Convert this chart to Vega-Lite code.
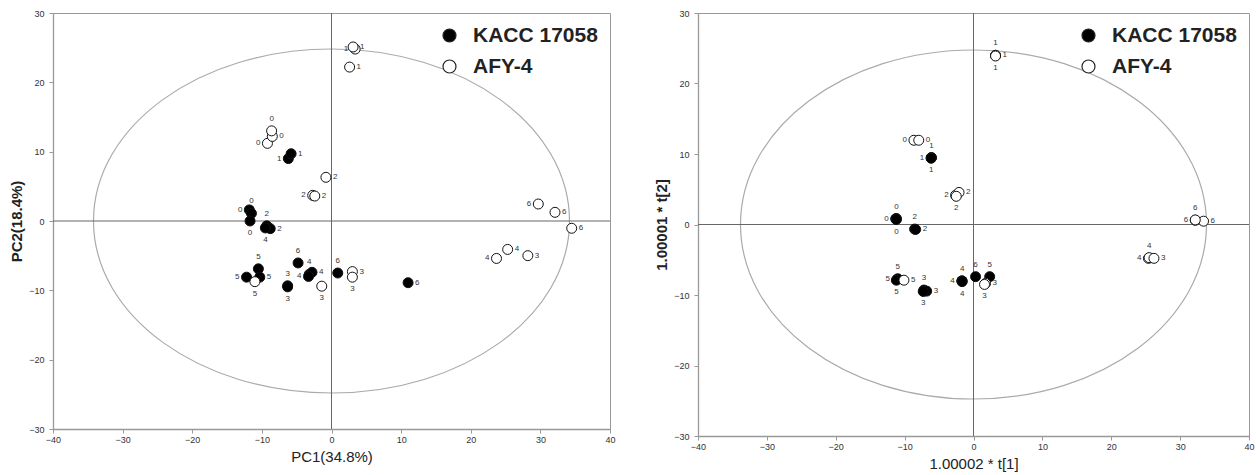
{
  "$schema": "https://vega.github.io/schema/vega-lite/v6.json",
  "padding": {"left": 9, "top": 8, "right": 3, "bottom": 2},
  "spacing": 38,
  "config": {
    "font": "Liberation Sans",
    "view": {"stroke": "#999", "strokeWidth": 1},
    "axis": {"grid": false, "domainColor": "#999", "domainWidth": 1.3, "tickColor": "#999", "tickSize": 4, "labelPadding": 5, "labelFontSize": 9, "labelColor": "#333", "titleColor": "#222", "titleFontSize": 15, "titleFontWeight": "normal", "titlePadding": 4, "labelFlush": false},
    "axisX": {"labelPadding": 2, "titlePadding": 5},
    "axisY": {"titleFontWeight": "bold"},
    "legend": {"orient": "top-right", "offset": 12, "padding": 0, "labelFontSize": 21, "labelFontWeight": "bold", "labelColor": "#222", "symbolSize": 169, "symbolType": "circle", "symbolStrokeColor": "#222", "symbolStrokeWidth": 1.2, "rowPadding": 9, "labelOffset": 13}
  },
  "datasets": {
    "center": [{"x": 0, "y": 0}],
    "pca": [
      {"x": -6.2, "y": 9.0, "strain": "KACC 17058", "label": "1", "side": "l"},
      {"x": -5.8, "y": 9.7, "strain": "KACC 17058", "label": "1", "side": "r"},
      {"x": -11.8, "y": 1.6, "strain": "KACC 17058", "label": "0", "side": "l"},
      {"x": -11.5, "y": 1.1, "strain": "KACC 17058", "label": "0", "side": "t"},
      {"x": -11.7, "y": 0.0, "strain": "KACC 17058", "label": "0", "side": "b"},
      {"x": -9.3, "y": -0.7, "strain": "KACC 17058", "label": "2", "side": "t"},
      {"x": -8.8, "y": -1.1, "strain": "KACC 17058", "label": "2", "side": "r"},
      {"x": -9.5, "y": -1.0, "strain": "KACC 17058", "label": "4", "side": "b"},
      {"x": -4.8, "y": -6.05, "strain": "KACC 17058", "label": "6", "side": "t"},
      {"x": 0.9, "y": -7.5, "strain": "KACC 17058", "label": "6", "side": "t"},
      {"x": 11.0, "y": -8.9, "strain": "KACC 17058", "label": "6", "side": "r"},
      {"x": -3.2, "y": -7.7, "strain": "KACC 17058", "label": "4", "side": "t"},
      {"x": -2.8, "y": -7.4, "strain": "KACC 17058", "label": "4", "side": "r"},
      {"x": -3.3, "y": -8.0, "strain": "KACC 17058", "label": "4", "side": "l"},
      {"x": -6.3, "y": -9.35, "strain": "KACC 17058", "label": "3", "side": "t"},
      {"x": -6.3, "y": -9.5, "strain": "KACC 17058", "label": "3", "side": "b"},
      {"x": -12.2, "y": -8.1, "strain": "KACC 17058", "label": "5", "side": "l"},
      {"x": -10.5, "y": -6.9, "strain": "KACC 17058", "label": "5", "side": "t"},
      {"x": -10.3, "y": -8.1, "strain": "KACC 17058", "label": "5", "side": "r"},
      {"x": -9.2, "y": 11.2, "strain": "AFY-4", "label": "0", "side": "l"},
      {"x": -8.5, "y": 12.2, "strain": "AFY-4", "label": "0", "side": "r"},
      {"x": -8.6, "y": 13.0, "strain": "AFY-4", "label": "0", "side": "t"},
      {"x": 3.4, "y": 24.8, "strain": "AFY-4", "label": "1", "side": "l"},
      {"x": 3.1, "y": 25.1, "strain": "AFY-4", "label": "1", "side": "r"},
      {"x": 2.6, "y": 22.2, "strain": "AFY-4", "label": "1", "side": "r"},
      {"x": -2.7, "y": 3.7, "strain": "AFY-4", "label": "2", "side": "l"},
      {"x": -2.4, "y": 3.6, "strain": "AFY-4", "label": "2", "side": "r"},
      {"x": -0.8, "y": 6.3, "strain": "AFY-4", "label": "2", "side": "r"},
      {"x": 3.0, "y": -7.3, "strain": "AFY-4", "label": "3", "side": "r"},
      {"x": 3.0, "y": -8.1, "strain": "AFY-4", "label": "3", "side": "b"},
      {"x": -1.4, "y": -9.4, "strain": "AFY-4", "label": "3", "side": "b"},
      {"x": 23.7, "y": -5.4, "strain": "AFY-4", "label": "4", "side": "l"},
      {"x": 25.3, "y": -4.1, "strain": "AFY-4", "label": "4", "side": "r"},
      {"x": 28.2, "y": -5.0, "strain": "AFY-4", "label": "3", "side": "r"},
      {"x": 29.7, "y": 2.45, "strain": "AFY-4", "label": "6", "side": "l"},
      {"x": 32.1, "y": 1.25, "strain": "AFY-4", "label": "6", "side": "r"},
      {"x": 34.5, "y": -1.05, "strain": "AFY-4", "label": "6", "side": "r"},
      {"x": -11.0, "y": -8.75, "strain": "AFY-4", "label": "5", "side": "b"}
    ],
    "opls": [
      {"x": -6.15, "y": 9.45, "strain": "KACC 17058", "label": "1", "side": "l"},
      {"x": -6.1, "y": 9.5, "strain": "KACC 17058", "label": "1", "side": "t"},
      {"x": -6.15, "y": 9.4, "strain": "KACC 17058", "label": "1", "side": "b"},
      {"x": -11.2, "y": 0.85, "strain": "KACC 17058", "label": "0", "side": "t"},
      {"x": -11.3, "y": 0.8, "strain": "KACC 17058", "label": "0", "side": "l"},
      {"x": -11.2, "y": 0.7, "strain": "KACC 17058", "label": "0", "side": "b"},
      {"x": -8.55, "y": -0.65, "strain": "KACC 17058", "label": "2", "side": "t"},
      {"x": -8.4, "y": -0.7, "strain": "KACC 17058", "label": "2", "side": "r"},
      {"x": -11.1, "y": -7.8, "strain": "KACC 17058", "label": "5", "side": "l"},
      {"x": -11.0, "y": -7.7, "strain": "KACC 17058", "label": "5", "side": "t"},
      {"x": -11.2, "y": -7.9, "strain": "KACC 17058", "label": "5", "side": "b"},
      {"x": -7.2, "y": -9.3, "strain": "KACC 17058", "label": "3", "side": "t"},
      {"x": -6.8, "y": -9.45, "strain": "KACC 17058", "label": "3", "side": "r"},
      {"x": -7.3, "y": -9.5, "strain": "KACC 17058", "label": "3", "side": "b"},
      {"x": -1.65, "y": -8.0, "strain": "KACC 17058", "label": "4", "side": "t"},
      {"x": -1.7, "y": -8.0, "strain": "KACC 17058", "label": "4", "side": "l"},
      {"x": -1.65, "y": -8.1, "strain": "KACC 17058", "label": "4", "side": "b"},
      {"x": 0.3, "y": -7.4, "strain": "KACC 17058", "label": "6", "side": "t"},
      {"x": 2.35, "y": -7.4, "strain": "KACC 17058", "label": "5", "side": "t"},
      {"x": -8.65, "y": 11.95, "strain": "AFY-4", "label": "0", "side": "l"},
      {"x": -7.95, "y": 11.95, "strain": "AFY-4", "label": "0", "side": "r"},
      {"x": 3.2, "y": 24.0, "strain": "AFY-4", "label": "1", "side": "t"},
      {"x": 3.2, "y": 24.0, "strain": "AFY-4", "label": "1", "side": "r"},
      {"x": 3.2, "y": 23.9, "strain": "AFY-4", "label": "1", "side": "b"},
      {"x": -2.6, "y": 4.15, "strain": "AFY-4", "label": "2", "side": "l"},
      {"x": -2.1, "y": 4.55, "strain": "AFY-4", "label": "2", "side": "r"},
      {"x": -2.5, "y": 4.0, "strain": "AFY-4", "label": "2", "side": "b"},
      {"x": 1.75, "y": -8.35, "strain": "AFY-4", "label": "3", "side": "r"},
      {"x": 1.6, "y": -8.5, "strain": "AFY-4", "label": "3", "side": "b"},
      {"x": -10.1, "y": -7.9, "strain": "AFY-4", "label": "5", "side": "r"},
      {"x": 32.2, "y": 0.6, "strain": "AFY-4", "label": "6", "side": "l"},
      {"x": 33.4, "y": 0.47, "strain": "AFY-4", "label": "6", "side": "r"},
      {"x": 32.2, "y": 0.65, "strain": "AFY-4", "label": "6", "side": "t"},
      {"x": 25.4, "y": -4.8, "strain": "AFY-4", "label": "4", "side": "l"},
      {"x": 25.5, "y": -4.7, "strain": "AFY-4", "label": "4", "side": "t"},
      {"x": 26.2, "y": -4.8, "strain": "AFY-4", "label": "3", "side": "r"}
    ]
  },
  "resolve": {"scale": {"fill": "independent"}, "legend": {"fill": "independent"}},
  "hconcat": [
    {
      "width": 557,
      "height": 416,
      "data": {"name": "pca"},
      "encoding": {
        "x": {"field": "x", "type": "quantitative", "scale": {"domain": [-40, 40], "nice": false}, "axis": {"values": [-40, -30, -20, -10, 0, 10, 20, 30, 40], "title": "PC1(34.8%)"}},
        "y": {"field": "y", "type": "quantitative", "scale": {"domain": [-30, 30], "nice": false}, "axis": {"values": [-30, -20, -10, 0, 10, 20, 30], "title": "PC2(18.4%)"}}
      },
      "layer": [
        {"data": {"name": "center"}, "mark": {"type": "point", "shape": "M-1,0C-1,-0.3991,-0.5523,-0.7227,0,-0.7227C0.5523,-0.7227,1,-0.3991,1,0C1,0.3991,0.5523,0.7227,0,0.7227C-0.5523,0.7227,-1,0.3991,-1,0Z", "size": 226576, "filled": false, "stroke": "#aaa", "strokeWidth": 1.2, "opacity": 1}},
        {"data": {"name": "center"}, "mark": {"type": "rule", "color": "#666", "strokeWidth": 1}, "encoding": {"x": {"datum": 0}, "y": {"datum": -30}, "y2": {"datum": 30}}},
        {"data": {"name": "center"}, "mark": {"type": "rule", "color": "#666", "strokeWidth": 1}, "encoding": {"y": {"datum": 0}, "x": {"datum": -40}, "x2": {"datum": 40}}},
        {"mark": {"type": "point", "filled": true, "size": 100, "stroke": "#111", "strokeWidth": 1, "opacity": 1}, "encoding": {"fill": {"field": "strain", "type": "nominal", "scale": {"domain": ["KACC 17058", "AFY-4"], "range": ["#000000", "#ffffff"]}, "legend": {"title": null}}}},
        {"transform": [{"filter": "datum.side === 'r'"}], "mark": {"type": "text", "align": "left", "baseline": "middle", "dx": 7, "fontSize": 8, "fill": "#333"}, "encoding": {"text": {"field": "label"}}},
        {"transform": [{"filter": "datum.side === 'l'"}], "mark": {"type": "text", "align": "right", "baseline": "middle", "dx": -7, "fontSize": 8, "fill": "#333"}, "encoding": {"text": {"field": "label"}}},
        {"transform": [{"filter": "datum.side === 't'"}], "mark": {"type": "text", "align": "center", "baseline": "middle", "dy": -12, "fontSize": 8, "fill": "#333"}, "encoding": {"text": {"field": "label"}}},
        {"transform": [{"filter": "datum.side === 'b'"}], "mark": {"type": "text", "align": "center", "baseline": "middle", "dy": 12, "fontSize": 8, "fill": "#333"}, "encoding": {"text": {"field": "label"}}}
      ]
    },
    {
      "width": 551,
      "height": 423,
      "data": {"name": "opls"},
      "encoding": {
        "x": {"field": "x", "type": "quantitative", "scale": {"domain": [-40, 40], "nice": false}, "axis": {"values": [-40, -30, -20, -10, 0, 10, 20, 30, 40], "title": "1.00002 * t[1]"}},
        "y": {"field": "y", "type": "quantitative", "scale": {"domain": [-30, 30], "nice": false}, "axis": {"values": [-30, -20, -10, 0, 10, 20, 30], "title": "1.00001 * t[2]"}}
      },
      "layer": [
        {"data": {"name": "center"}, "mark": {"type": "point", "shape": "M-1,0C-1,-0.4137,-0.5523,-0.749,0,-0.749C0.5523,-0.749,1,-0.4137,1,0C1,0.4137,0.5523,0.749,0,0.749C-0.5523,0.749,-1,0.4137,-1,0Z", "size": 217156, "filled": false, "stroke": "#aaa", "strokeWidth": 1.2, "opacity": 1}},
        {"data": {"name": "center"}, "mark": {"type": "rule", "color": "#666", "strokeWidth": 1}, "encoding": {"x": {"datum": 0}, "y": {"datum": -30}, "y2": {"datum": 30}}},
        {"data": {"name": "center"}, "mark": {"type": "rule", "color": "#666", "strokeWidth": 1}, "encoding": {"y": {"datum": 0}, "x": {"datum": -40}, "x2": {"datum": 40}}},
        {"mark": {"type": "point", "filled": true, "size": 100, "stroke": "#111", "strokeWidth": 1, "opacity": 1}, "encoding": {"fill": {"field": "strain", "type": "nominal", "scale": {"domain": ["KACC 17058", "AFY-4"], "range": ["#000000", "#ffffff"]}, "legend": {"title": null}}}},
        {"transform": [{"filter": "datum.side === 'r'"}], "mark": {"type": "text", "align": "left", "baseline": "middle", "dx": 7, "fontSize": 8, "fill": "#333"}, "encoding": {"text": {"field": "label"}}},
        {"transform": [{"filter": "datum.side === 'l'"}], "mark": {"type": "text", "align": "right", "baseline": "middle", "dx": -7, "fontSize": 8, "fill": "#333"}, "encoding": {"text": {"field": "label"}}},
        {"transform": [{"filter": "datum.side === 't'"}], "mark": {"type": "text", "align": "center", "baseline": "middle", "dy": -12, "fontSize": 8, "fill": "#333"}, "encoding": {"text": {"field": "label"}}},
        {"transform": [{"filter": "datum.side === 'b'"}], "mark": {"type": "text", "align": "center", "baseline": "middle", "dy": 12, "fontSize": 8, "fill": "#333"}, "encoding": {"text": {"field": "label"}}}
      ]
    }
  ]
}
